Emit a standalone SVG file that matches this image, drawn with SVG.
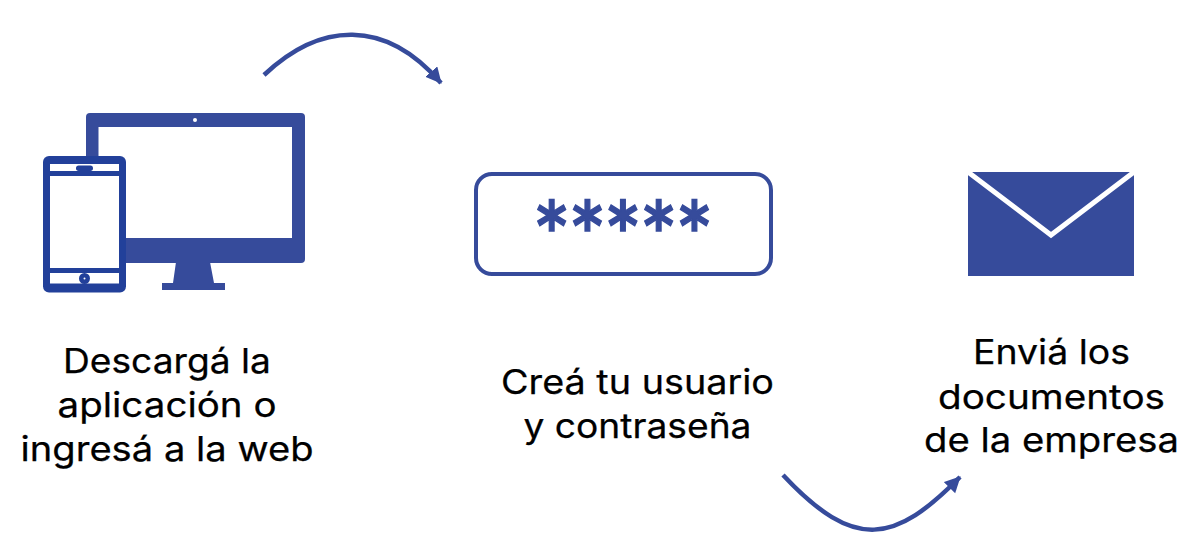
<svg xmlns="http://www.w3.org/2000/svg" width="1203" height="552" viewBox="0 0 1203 552">
<style>
.t{font-family:"Inter","Noto Sans","Liberation Sans",sans-serif;font-size:34.500px;font-weight:400;fill:#000;stroke:#000;stroke-width:.25;text-anchor:middle}
.m{fill:#364b9b}
.p{fill:#22409a}
.w{fill:#fff}
.c{fill:none;stroke:#364b9b;stroke-width:4.500}
</style>
<defs>
<marker id="a" markerUnits="userSpaceOnUse" markerWidth="18" markerHeight="18" refX="15" refY="8" orient="auto"><path d="M0 0L16 8L0 16Z" fill="#364b9b"/></marker>
</defs>
<rect width="1203" height="552" fill="#fff"/>
<g id="connectors">
<path class="c" d="M264 75C320 22 385 18 441 83" marker-end="url(#a)"/>
<path class="c" d="M783 475C855 552 895 543 960 477" marker-end="url(#a)"/>
</g>
<g id="node-devices">
<rect class="m" x="86" y="113" width="219" height="150" rx="4"/>
<rect class="w" x="98.500" y="127" width="193.500" height="111"/>
<circle class="w" cx="195" cy="120" r="2"/>
<path class="m" d="M176 262H210L214 283H225V290H162V283H173Z"/>
<rect class="p" x="43" y="156" width="83" height="136.500" rx="6"/>
<rect class="w" x="50" y="164" width="69" height="7"/>
<rect class="w" x="50" y="176" width="69" height="92"/>
<rect class="w" x="50" y="273" width="69" height="10.500"/>
<rect class="p" x="76" y="165.500" width="17" height="5.500" rx="2.700"/>
<circle class="p" cx="84.500" cy="278.500" r="5.500"/>
<circle class="w" cx="84.500" cy="278.500" r="1"/>
</g>
<g id="node-password">
<rect x="476" y="174" width="295" height="100" rx="16" fill="none" stroke="#364b9b" stroke-width="4"/>
<text transform="translate(623 250) scale(1 1.170)" font-family="DejaVu Sans" font-weight="700" font-size="58" fill="#364b9b" stroke="#364b9b" stroke-width="1.200" text-anchor="middle" textLength="173">*****</text>
</g>
<g id="node-mail">
<rect class="m" x="968" y="172" width="166" height="104"/>
<path d="M968 172L1051 235L1134 172" fill="none" stroke="#fff" stroke-width="5"/>
</g>
<g id="label-1">
<text class="t" x="167" y="373" textLength="208" lengthAdjust="spacingAndGlyphs">Descargá la</text>
<text class="t" x="167" y="417" textLength="219" lengthAdjust="spacingAndGlyphs">aplicación o</text>
<text class="t" x="167" y="461" textLength="293" lengthAdjust="spacingAndGlyphs">ingresá a la web</text>
</g>
<g id="label-2">
<text class="t" x="637.500" y="394" textLength="273" lengthAdjust="spacingAndGlyphs">Creá tu usuario</text>
<text class="t" x="637.500" y="438" textLength="228" lengthAdjust="spacingAndGlyphs">y contraseña</text>
</g>
<g id="label-3">
<text class="t" x="1051.500" y="364" textLength="157" lengthAdjust="spacingAndGlyphs">Enviá los</text>
<text class="t" x="1051.500" y="409" textLength="227" lengthAdjust="spacingAndGlyphs">documentos</text>
<text class="t" x="1051.500" y="452" textLength="255" lengthAdjust="spacingAndGlyphs">de la empresa</text>
</g>
</svg>
